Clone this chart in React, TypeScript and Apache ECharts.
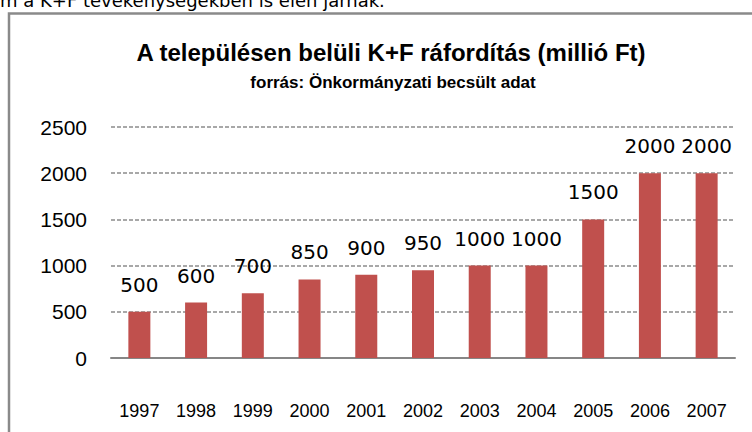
import React, { useEffect, useRef } from "react";
import * as echarts from "echarts";

const years = ["1997", "1998", "1999", "2000", "2001", "2002", "2003", "2004", "2005", "2006", "2007"];
const values = [500, 600, 700, 850, 900, 950, 1000, 1000, 1500, 2000, 2000];
const titleText = "A településen belüli K+F ráfordítás (millió Ft)";
const subtitleText = "forrás: Önkormányzati becsült adat";
const topLineText = "m a K+F tevékenységekben is élen járnak.";

export default function App() {
  const ref = useRef<HTMLDivElement>(null);
  useEffect(() => {
    if (!ref.current) return;
    const chart = echarts.init(ref.current, null, { renderer: "svg" });
    chart.setOption({
      animation: false,
      backgroundColor: "#ffffff",
      graphic: [
        {
          type: "rect",
          shape: { x: 9, y: 13.5, width: 800, height: 500 },
          style: { fill: "none", stroke: "#8a8a8a", lineWidth: 2.5 },
          silent: true,
        },
        {
          type: "text",
          x: 0,
          y: 9,
          style: {
            text: topLineText,
            font: "18px 'DejaVu Sans'",
            fill: "#000",
            verticalAlign: "bottom",
            align: "left",
          },
        },
      ],
      title: [
        {
          text: titleText,
          left: 386,
          top: 35,
          textAlign: "center",
          textStyle: { fontFamily: "Liberation Sans", fontWeight: "bold", fontSize: 24, color: "#000" },
        },
        {
          text: subtitleText,
          left: 388,
          top: 69,
          textAlign: "center",
          textStyle: { fontFamily: "Liberation Sans", fontWeight: "bold", fontSize: 17, color: "#000" },
        },
      ],
      grid: { left: 111, right: 17, top: 127, bottom: 74, containLabel: false },
      xAxis: {
        type: "category",
        data: years,
        axisLine: { show: true, lineStyle: { color: "#868686", width: 2 } },
        axisTick: { show: false },
        axisLabel: {
          margin: 44,
          fontFamily: "Liberation Sans",
          fontSize: 18,
          color: "#000",
          interval: 0,
        },
      },
      yAxis: {
        type: "value",
        min: 0,
        max: 2500,
        interval: 500,
        axisLine: { show: false },
        axisTick: { show: false },
        axisLabel: {
          margin: 24,
          fontFamily: "Liberation Sans",
          fontSize: 21,
          color: "#000",
          formatter: (v: number) => String(v),
        },
        splitLine: { show: true, lineStyle: { color: "#8c8c8c", width: 1.5, type: [4, 2] } },
      },
      series: [
        {
          type: "bar",
          data: values,
          barWidth: 22,
          itemStyle: { color: "#c0504d" },
          label: {
            show: true,
            position: "top",
            distance: 17,
            fontFamily: "DejaVu Sans",
            fontSize: 20,
            color: "#000",
          },
        },
      ],
    });
    return () => chart.dispose();
  }, []);
  return (
    <div
      ref={ref}
      style={{ position: "absolute", left: 0, top: 0, width: 752, height: 432, overflow: "hidden" }}
    />
  );
}
